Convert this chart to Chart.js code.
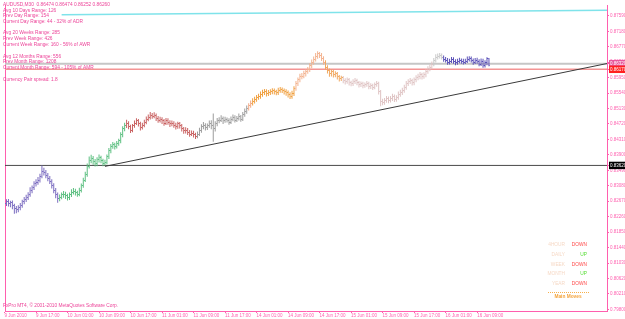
<!DOCTYPE html>
<html><head><meta charset="utf-8">
<script src="https://cdn.jsdelivr.net/npm/chart.js@4.4.0/dist/chart.umd.min.js"></script>
<style>html,body{margin:0;padding:0;background:#fff;overflow:hidden}</style>
</head><body>
<canvas id="c" width="625" height="319"></canvas>
<script>
// ---- DATA (AUDUSD M30) ----
const opens=[.8260,.8266,.8260,.8263,.8255,.8248,.8244,.8250,.8255,.8266,
.8271,.8276,.8286,.8296,.8303,.8313,.8318,.8323,.8333,.8346,
.8343,.8336,.8328,.8320,.8310,.8296,.8284,.8273,.8278,.8284,
.8286,.8281,.8276,.8284,.8291,.8294,.8289,.8286,.8296,.8308,
.8323,.8338,.8360,.8375,.8380,.8372,.8367,.8377,.8383,.8375,
.8367,.8370,.8385,.8402,.8412,.8417,.8412,.8420,.8427,.8443,
.8459,.8467,.8474,.8464,.8456,.8467,.8474,.8480,.8472,.8462,
.8469,.8477,.8485,.8490,.8495,.8492,.8495,.8487,.8482,.8485,
.8480,.8474,.8482,.8477,.8472,.8474,.8469,.8464,.8472,.8467,
.8459,.8454,.8456,.8450,.8445,.8448,.8443,.8440,.8445,.8456,
.8464,.8469,.8462,.8467,.8474,.8467,.8459,.8472,.8480,.8482,
.8487,.8480,.8485,.8482,.8477,.8485,.8490,.8482,.8487,.8492,
.8485,.8497,.8506,.8514,.8521,.8527,.8532,.8537,.8542,.8545,
.8550,.8556,.8558,.8552,.8556,.8558,.8561,.8558,.8556,.8561,
.8563,.8561,.8558,.8556,.8550,.8545,.8552,.8566,.8579,.8589,
.8597,.8599,.8605,.8611,.8616,.8626,.8636,.8644,.8652,.8658,
.8654,.8646,.8636,.8623,.8613,.8605,.8611,.8602,.8605,.8597,
.8592,.8594,.8587,.8584,.8589,.8581,.8579,.8584,.8587,.8581,
.8576,.8579,.8574,.8576,.8579,.8571,.8574,.8569,.8576,.8579,
.8558,.8532,.8529,.8534,.8539,.8534,.8539,.8545,.8537,.8542,
.8550,.8556,.8561,.8569,.8579,.8584,.8587,.8581,.8589,.8594,
.8597,.8602,.8597,.8602,.8611,.8618,.8623,.8631,.8641,.8649,
.8652,.8654,.8649,.8644,.8641,.8636,.8639,.8644,.8639,.8634,
.8639,.8641,.8639,.8636,.8639,.8644,.8646,.8641,.8636,.8641,
.8639,.8631,.8639,.8628,.8634,.8647];
const highs=[.8272,.8273,.8268,.8269,.8260,.8254,.8256,.8262,.8271,.8278,
.8284,.8291,.8304,.8309,.8320,.8325,.8331,.8340,.8362,.8356,
.8350,.8342,.8334,.8325,.8315,.8302,.8290,.8285,.8290,.8294,
.8292,.8287,.8290,.8299,.8302,.8300,.8295,.8303,.8314,.8329,
.8345,.8367,.8386,.8390,.8387,.8379,.8384,.8391,.8388,.8380,
.8377,.8391,.8408,.8419,.8424,.8422,.8427,.8433,.8450,.8466,
.8475,.8483,.8479,.8470,.8472,.8481,.8487,.8485,.8478,.8475,
.8483,.8492,.8497,.8504,.8501,.8503,.8500,.8493,.8491,.8490,
.8485,.8488,.8487,.8482,.8481,.8479,.8475,.8478,.8477,.8472,
.8464,.8463,.8461,.8456,.8455,.8454,.8449,.8452,.8462,.8471,
.8477,.8474,.8473,.8481,.8482,.8500,.8479,.8488,.8490,.8495,
.8492,.8491,.8489,.8487,.8492,.8497,.8495,.8493,.8500,.8496,
.8504,.8513,.8521,.8527,.8534,.8540,.8544,.8549,.8552,.8558,
.8563,.8565,.8564,.8562,.8564,.8567,.8566,.8563,.8568,.8570,
.8569,.8566,.8564,.8561,.8556,.8560,.8572,.8586,.8595,.8605,
.8607,.8613,.8617,.8623,.8633,.8643,.8651,.8660,.8665,.8663,
.8660,.8652,.8641,.8628,.8619,.8617,.8616,.8612,.8610,.8602,
.8600,.8599,.8593,.8595,.8594,.8587,.8591,.8594,.8592,.8586,
.8585,.8584,.8582,.8586,.8584,.8580,.8579,.8582,.8586,.8584,
.8562,.8539,.8541,.8546,.8545,.8546,.8552,.8550,.8548,.8558,
.8563,.8568,.8576,.8586,.8591,.8594,.8592,.8595,.8601,.8605,
.8610,.8608,.8609,.8617,.8625,.8630,.8638,.8647,.8657,.8659,
.8660,.8659,.8654,.8650,.8647,.8645,.8650,.8649,.8644,.8645,
.8648,.8646,.8645,.8645,.8651,.8652,.8651,.8646,.8647,.8648,
.8644,.8646,.8645,.8641,.8649,.8647];
const lows=[.8254,.8253,.8251,.8246,.8234,.8235,.8238,.8243,.8250,.8259,
.8265,.8270,.8279,.8288,.8297,.8306,.8311,.8317,.8328,.8335,
.8328,.8320,.8313,.8301,.8288,.8275,.8263,.8267,.8272,.8276,
.8273,.8269,.8270,.8278,.8285,.8282,.8279,.8280,.8290,.8303,
.8318,.8332,.8354,.8368,.8364,.8359,.8360,.8370,.8368,.8360,
.8362,.8365,.8379,.8394,.8406,.8404,.8407,.8414,.8421,.8437,
.8453,.8461,.8458,.8448,.8450,.8462,.8469,.8465,.8455,.8457,
.8463,.8471,.8479,.8484,.8486,.8487,.8480,.8475,.8476,.8472,
.8467,.8469,.8470,.8464,.8466,.8462,.8457,.8459,.8460,.8452,
.8446,.8447,.8443,.8438,.8440,.8436,.8432,.8434,.8440,.8449,
.8458,.8455,.8456,.8462,.8458,.8425,.8452,.8466,.8474,.8477,
.8472,.8475,.8476,.8470,.8472,.8479,.8476,.8477,.8481,.8478,
.8480,.8491,.8499,.8508,.8515,.8521,.8526,.8531,.8536,.8539,
.8544,.8549,.8545,.8546,.8549,.8551,.8550,.8548,.8549,.8555,
.8554,.8550,.8547,.8542,.8538,.8539,.8546,.8560,.8573,.8583,
.8591,.8593,.8598,.8605,.8610,.8620,.8629,.8638,.8645,.8647,
.8639,.8629,.8616,.8606,.8597,.8598,.8595,.8596,.8590,.8585,
.8586,.8580,.8577,.8579,.8574,.8572,.8573,.8578,.8575,.8569,
.8570,.8567,.8568,.8571,.8564,.8565,.8562,.8564,.8571,.8550,
.8519,.8522,.8523,.8528,.8527,.8529,.8533,.8530,.8531,.8536,
.8544,.8549,.8555,.8563,.8573,.8578,.8574,.8575,.8583,.8588,
.8591,.8590,.8592,.8596,.8605,.8612,.8617,.8625,.8635,.8643,
.8646,.8643,.8637,.8635,.8629,.8630,.8634,.8632,.8628,.8629,
.8633,.8632,.8630,.8631,.8634,.8638,.8635,.8629,.8631,.8632,
.8625,.8626,.8621,.8622,.8628,.8625];
const closes=[.8266,.8260,.8263,.8255,.8248,.8244,.8250,.8255,.8266,.8271,
.8276,.8286,.8296,.8303,.8313,.8318,.8323,.8333,.8346,.8343,
.8336,.8328,.8320,.8310,.8296,.8284,.8273,.8278,.8284,.8286,
.8281,.8276,.8284,.8291,.8294,.8289,.8286,.8296,.8308,.8323,
.8338,.8360,.8375,.8380,.8372,.8367,.8377,.8383,.8375,.8367,
.8370,.8385,.8402,.8412,.8417,.8412,.8420,.8427,.8443,.8459,
.8467,.8474,.8464,.8456,.8467,.8474,.8480,.8472,.8462,.8469,
.8477,.8485,.8490,.8495,.8492,.8495,.8487,.8482,.8485,.8480,
.8474,.8482,.8477,.8472,.8474,.8469,.8464,.8472,.8467,.8459,
.8454,.8456,.8450,.8445,.8448,.8443,.8440,.8445,.8456,.8464,
.8469,.8462,.8467,.8474,.8467,.8459,.8472,.8480,.8482,.8487,
.8480,.8485,.8482,.8477,.8485,.8490,.8482,.8487,.8492,.8485,
.8497,.8506,.8514,.8521,.8527,.8532,.8537,.8542,.8545,.8550,
.8556,.8558,.8552,.8556,.8558,.8561,.8558,.8556,.8561,.8563,
.8561,.8558,.8556,.8550,.8545,.8552,.8566,.8579,.8589,.8597,
.8599,.8605,.8611,.8616,.8626,.8636,.8644,.8652,.8658,.8654,
.8646,.8636,.8623,.8613,.8605,.8611,.8602,.8605,.8597,.8592,
.8594,.8587,.8584,.8589,.8581,.8579,.8584,.8587,.8581,.8576,
.8579,.8574,.8576,.8579,.8571,.8574,.8569,.8576,.8579,.8558,
.8532,.8529,.8534,.8539,.8534,.8539,.8545,.8537,.8542,.8550,
.8556,.8561,.8569,.8579,.8584,.8587,.8581,.8589,.8594,.8597,
.8602,.8597,.8602,.8611,.8618,.8623,.8631,.8641,.8649,.8652,
.8654,.8649,.8644,.8641,.8636,.8639,.8644,.8639,.8634,.8639,
.8641,.8639,.8636,.8639,.8644,.8646,.8641,.8636,.8641,.8639,
.8631,.8639,.8628,.8634,.8647,.8626];

const timeLabels=['9 Jun 2010','9 Jun 17:00','10 Jun 01:00','10 Jun 09:00','10 Jun 17:00','11 Jun 01:00','11 Jun 09:00','11 Jun 17:00','14 Jun 01:00','14 Jun 09:00','14 Jun 17:00','15 Jun 01:00','15 Jun 09:00','15 Jun 17:00','16 Jun 01:00','16 Jun 09:00'];
const timeLabelBars=[-1,15,31,47,63,79,95,111,127,143,159,175,191,207,223,239];
const priceTicks=[0.87590,0.87180,0.86770,0.86360,0.85950,0.85540,0.85130,0.84720,0.84310,0.83900,0.83490,0.83080,0.82670,0.82260,0.81850,0.81440,0.81030,0.80620,0.80210,0.79800];
const levelGrey=0.86320, levelRed=0.86170, levelBlack=0.83620;
const trendBars=[50,304.95], trendPrices=[0.83595,0.86324];
const cyanBars=[28,304.95], cyanPrices=[0.87616,0.87739];
const infoTexts=['AUDUSD,M30  0.86474 0.86474 0.86252 0.86260','Avg 10 Days Range: 126','Prev Day Range: 154','Current Day Range: 44 - 32% of ADR','Avg 20 Weeks Range: 285','Prev Week Range: 426','Current Week Range: 160 - 56% of AWR','Avg 12 Months Range: 556','Prev Month Range: 1208','Current Month Range: 594 - 105% of AMR','Currency Pair spread: 1.8'];
const moveNames=['4HOUR','DAILY','WEEK','MONTH','YEAR'];
const moveDirs=['DOWN','UP','DOWN','UP','DOWN'];

// ---- STYLE ----
const X_MIN=-0.75, X_MAX=304.95, Y_MIN=0.79757, Y_MAX=0.87877;
const PINK='#ff5fae', TXT='#ec4499', FONT="'Liberation Sans', Arial, sans-serif";
const barSegments=[[0,26,'#7b6cc0'],[27,60,'#5cbf80'],[61,96,'#c96262'],[97,122,'#9c9c9c'],[123,124,'#f2a884'],[125,146,'#f0a040'],[147,161,'#f3b28e'],[162,170,'#f0a860'],[171,216,'#dfc3c3'],[217,221,'#c8c8c8'],[222,245,'#5a50b8']];
function segColor(i){for(const s of barSegments){if(i>=s[0]&&i<=s[1])return s[2];}return '#999';}
const tickImgs={};
function tickImg(color,side){const k=color+side;if(tickImgs[k])return tickImgs[k];const c=document.createElement('canvas');c.width=3;c.height=1;const g=c.getContext('2d');g.fillStyle=color;g.fillRect(side==='L'?0:2,0,1,1);tickImgs[k]=c;return c;}

const idx=closes.map((_,i)=>i);
const hlData=idx.map(i=>({x:i,y:[lows[i],highs[i]]}));
const openData=idx.map(i=>({x:i,y:opens[i]}));
const closeData=idx.map(i=>({x:i,y:closes[i]}));
const hlTicks={};
hlTicks[levelGrey]={bg:'#e8589c',fg:'#ffffff'};
hlTicks[levelRed]={bg:'#ff2020',fg:'#ffffff'};
hlTicks[levelBlack]={bg:'#000000',fg:'#ffffff'};

function hline(y,color,w,order){return {type:'line',data:[{x:X_MIN,y:y},{x:X_MAX,y:y}],borderColor:color,borderWidth:w,pointRadius:0,order:order};}

const textPlugin={id:'mt4text',afterDraw(chart){
  const g=chart.ctx;g.save();
  g.textBaseline='middle';g.textAlign='left';
  g.font='4.8px '+FONT;g.fillStyle=TXT;
  const ys=[5,10.3,16,21.6,33,38.8,44.5,56.2,62,68,80];
  infoTexts.forEach((t,i)=>g.fillText(t,3,ys[i]));
  g.fillText('FxPro MT4, \u00a9 2001-2010 MetaQuotes Software Corp.',3,305.7);
  const ry=[245,254.5,264.3,274,283.7];
  g.textAlign='right';
  moveNames.forEach((t,i)=>{g.fillStyle='#f6d9c6';g.fillText(t,565,ry[i]);g.fillStyle=moveDirs[i]==='UP'?'#55dd33':'#ff4a4a';g.fillText(moveDirs[i],587,ry[i]);});
  g.strokeStyle='#f7b04a';g.lineWidth=1;g.setLineDash([1,1]);
  g.beginPath();g.moveTo(548,292.5);g.lineTo(590,292.5);g.stroke();
  g.setLineDash([]);
  g.textAlign='center';g.font='bold 4.8px '+FONT;g.fillStyle='#f4a43c';
  g.fillText('Main Moves',568,297);
  g.restore();
}};

new Chart(document.getElementById('c'),{
  type:'bar',
  data:{datasets:[
    hline(levelGrey,'#c6c6c6',2,30),
    hline(levelRed,'#f39494',1.5,29),
    hline(levelBlack,'#4a4a4a',1,28),
    {type:'line',data:[{x:cyanBars[0],y:cyanPrices[0]},{x:cyanBars[1],y:cyanPrices[1]}],borderColor:'#7fe3ea',borderWidth:1.5,pointRadius:0,order:27},
    {type:'line',data:[{x:trendBars[0],y:trendPrices[0]},{x:trendBars[1],y:trendPrices[1]}],borderColor:'#3a3a3a',borderWidth:1,pointRadius:0,order:26},
    {type:'bar',data:hlData,backgroundColor:c=>segColor(c.dataIndex),barThickness:1,borderWidth:0,inflateAmount:0,grouped:false,order:3},
    {type:'line',data:openData,showLine:false,pointRadius:1,pointStyle:c=>tickImg(segColor(c.dataIndex),'L'),order:2},
    {type:'line',data:closeData,showLine:false,pointRadius:1,pointStyle:c=>tickImg(segColor(c.dataIndex),'R'),order:1}
  ]},
  options:{
    responsive:false,animation:false,events:[],
    layout:{padding:0},
    plugins:{legend:{display:false},tooltip:{enabled:false},title:{display:false}},
    scales:{
      x:{type:'linear',position:'bottom',min:X_MIN,max:X_MAX,offset:false,
        afterBuildTicks:s=>{s.ticks=timeLabelBars.map(v=>({value:v}));},
        afterFit:s=>{s.height=8;},
        ticks:{callback:(v,i)=>timeLabels[i],align:'start',autoSkip:false,maxRotation:0,minRotation:0,padding:0,color:PINK,font:{family:FONT,size:4.5}},
        grid:{drawOnChartArea:false,offset:false,tickLength:2,color:PINK},
        border:{color:PINK,width:1}},
      y:{type:'linear',position:'right',min:Y_MIN,max:Y_MAX,beginAtZero:false,
        afterBuildTicks:s=>{s.ticks=priceTicks.concat([levelGrey,levelRed,levelBlack]).map(v=>({value:v}));},
        afterFit:s=>{s.width=18;},
        ticks:{callback:v=>v.toFixed(5),autoSkip:false,padding:1,font:{family:FONT,size:4.5},
          color:c=>(c.tick&&hlTicks[c.tick.value])?hlTicks[c.tick.value].fg:PINK,
          showLabelBackdrop:c=>!!(c.tick&&hlTicks[c.tick.value]),
          backdropColor:c=>(c.tick&&hlTicks[c.tick.value])?hlTicks[c.tick.value].bg:'rgba(0,0,0,0)',
          backdropPadding:{left:1,right:3,top:1,bottom:1}},
        grid:{drawOnChartArea:false,tickLength:2,color:PINK},
        border:{color:PINK,width:1}},
      yl:{type:'linear',position:'left',display:true,
        afterFit:s=>{s.width=2;},
        ticks:{display:false},grid:{display:false,drawTicks:false},
        border:{display:true,color:PINK,width:1}}
    }
  },
  plugins:[textPlugin]
});
</script>
</body></html>
